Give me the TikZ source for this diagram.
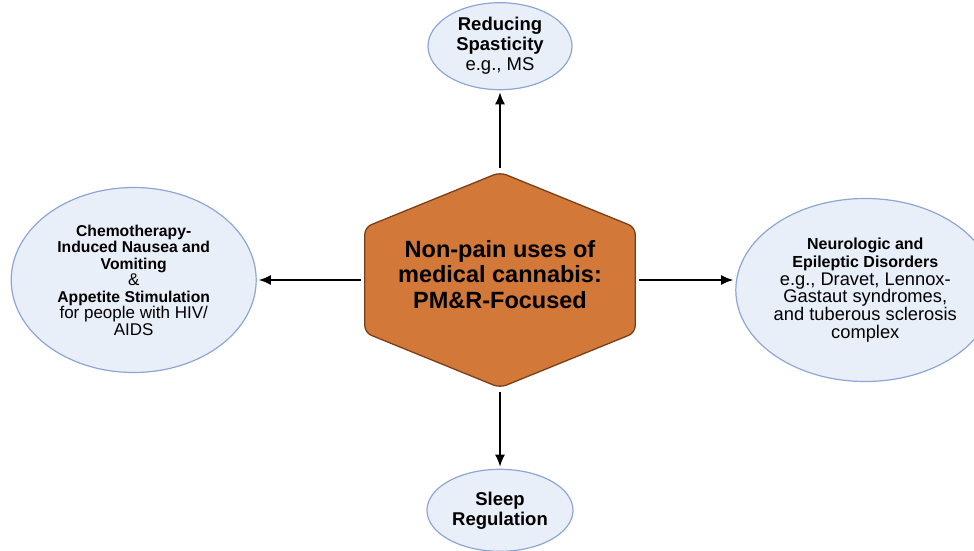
\documentclass[tikz,border=0pt]{standalone}
\usepackage{fontspec}
\setmainfont{Liberation Sans}
\usetikzlibrary{positioning}
\usetikzlibrary{arrows.meta}
\usetikzlibrary{shapes.geometric}
\usetikzlibrary{backgrounds}
\definecolor{spotfill}{HTML}{E9EFF9}
\definecolor{spotline}{HTML}{8DA6D6}
\definecolor{hubfill}{HTML}{D27838}
\definecolor{hubline}{HTML}{7B3F18}

\begin{document}
\begin{tikzpicture}[x=1pt,y=1pt,
spot/.style={ellipse, draw=spotline, fill=spotfill, line width=1.2pt, inner sep=0pt, align=center},
hubnode/.style={rectangle, minimum width=270pt, minimum height=215pt, inner sep=0pt, align=center, font=\fontsize{23.5}{25.5}\selectfont\bfseries},
edge/.style={-{Latex[length=12pt,width=10pt]}, line width=1.6pt, shorten <=4pt, shorten >=2pt}
]
\useasboundingbox (0,0) rectangle (974,550);

%Nodes
\node[hubnode]        (hub)    at (500,270)       {Non-pain uses of\\medical cannabis:\\PM\&R-Focused\\[-13.5pt]};
\node[spot, minimum width=144pt, minimum height=87pt, font=\fontsize{18.5}{20}\selectfont]        (spas)    [above=82pt of hub]      {\textbf{Reducing}\\\textbf{Spasticity}\\e.g., MS};
\node[spot, minimum width=146pt, minimum height=82pt, font=\fontsize{18.5}{20}\selectfont\bfseries]        (sleep)    [below=81pt of hub]      {Sleep\\Regulation};
\node[spot, minimum width=245pt, minimum height=185pt, font=\fontsize{15.7}{16.5}\selectfont]        (chemo)    [left=108pt of hub]      {\textbf{Chemotherapy-}\\\textbf{Induced Nausea and}\\\textbf{Vomiting}\\{\fontsize{17}{16.5}\selectfont\&}\\\textbf{Appetite Stimulation}\\{\fontsize{17}{16.5}\selectfont for people with HIV/}\\{\fontsize{17}{16.5}\selectfont AIDS}};
\node[spot, minimum width=250pt, minimum height=183pt, font=\fontsize{18.3}{17.7}\selectfont]        (neuro)    [right=100pt of hub, yshift=-10pt]      {{\fontsize{16}{17.7}\selectfont\bfseries Neurologic and}\\{\fontsize{16}{17.7}\selectfont\bfseries Epileptic Disorders}\\e.g., Dravet, Lennox-\\Gastaut syndromes,\\and tuberous sclerosis\\complex};

%Hexagon
\begin{pgfonlayer}{background}
\draw[hubline, fill=hubfill, line width=1.3pt, rounded corners=7pt] (hub.north) -- ([yshift=-55pt]hub.north east) -- ([yshift=55pt]hub.south east) -- (hub.south) -- ([yshift=55pt]hub.south west) -- ([yshift=-55pt]hub.north west) -- cycle;
\end{pgfonlayer}

%Edges
\draw[edge] (hub.north) -- (spas.south);
\draw[edge] (hub.south) -- (sleep.north);
\draw[edge] (hub.west) -- (chemo.east);
\draw[edge] (hub.east) -- (hub.east -| neuro.west);

\end{tikzpicture}
\end{document}
